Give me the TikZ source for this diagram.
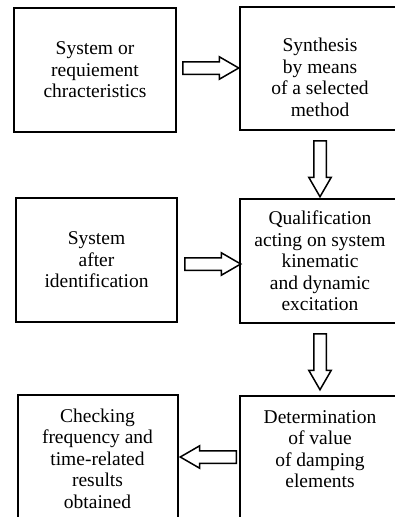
\documentclass[tikz,border=0pt]{standalone}
\usepackage{fontspec}
\setmainfont{Liberation Serif}
\usetikzlibrary{shapes.arrows,calc}

\newcommand{\movetext}[2]{\raisebox{#1}[\height][\depth]{\begin{tabular}{@{}c@{}}#2\end{tabular}}}

\tikzset{
  stagebox/.style={draw=black,line width=2pt,minimum width=160pt,minimum height=124pt,inner sep=0pt,align=center},
  hollowarrow/.style={single arrow,draw=black,fill=white,line width=1.5pt,minimum height=56pt,anchor=tail,
    single arrow head extend=5pt,single arrow tip angle=60,inner xsep=0pt,inner ysep=5.5pt}
}

\begin{document}
\begin{tikzpicture}[x=1pt,y=-1pt,font=\fontsize{19.5}{21.5}\selectfont]
\useasboundingbox (0,0) rectangle (395,517);
\node[stagebox,minimum width=162pt] (requirements) at (95,70) {System or\\requiement\\chracteristics};
\node[stagebox,minimum height=123pt] (synthesis) at (320,68.5) {\movetext{-11pt}{Synthesis\\by means\\of a selected\\method}};
\node[stagebox,minimum width=161pt] (identified) at (96.5,260) {System\\after\\identification};
\node[stagebox] (qualification) at (320,261) {Qualification\\acting on system\\kinematic\\and dynamic\\excitation};
\node[stagebox,minimum height=127pt] (checking) at (97.5,458.5) {Checking\\frequency and\\time-related\\results\\obtained};
\node[stagebox,minimum height=126pt] (damping) at (320,459) {\movetext{8pt}{Determination\\of value\\of damping\\elements}};
\node[hollowarrow] (arrow-1) at ([xshift=5pt,yshift=2pt]requirements.east) {};
\node[hollowarrow,rotate=-90] (arrow-2) at ([yshift=-9pt]synthesis.south) {};
\node[hollowarrow] (arrow-3) at ([xshift=6pt,yshift=-4pt]identified.east) {};
\node[hollowarrow,rotate=-90] (arrow-4) at ([yshift=-9pt]qualification.south) {};
\node[hollowarrow,rotate=180] (arrow-5) at ([xshift=-2pt,yshift=2pt]damping.west) {};
\end{tikzpicture}
\end{document}
